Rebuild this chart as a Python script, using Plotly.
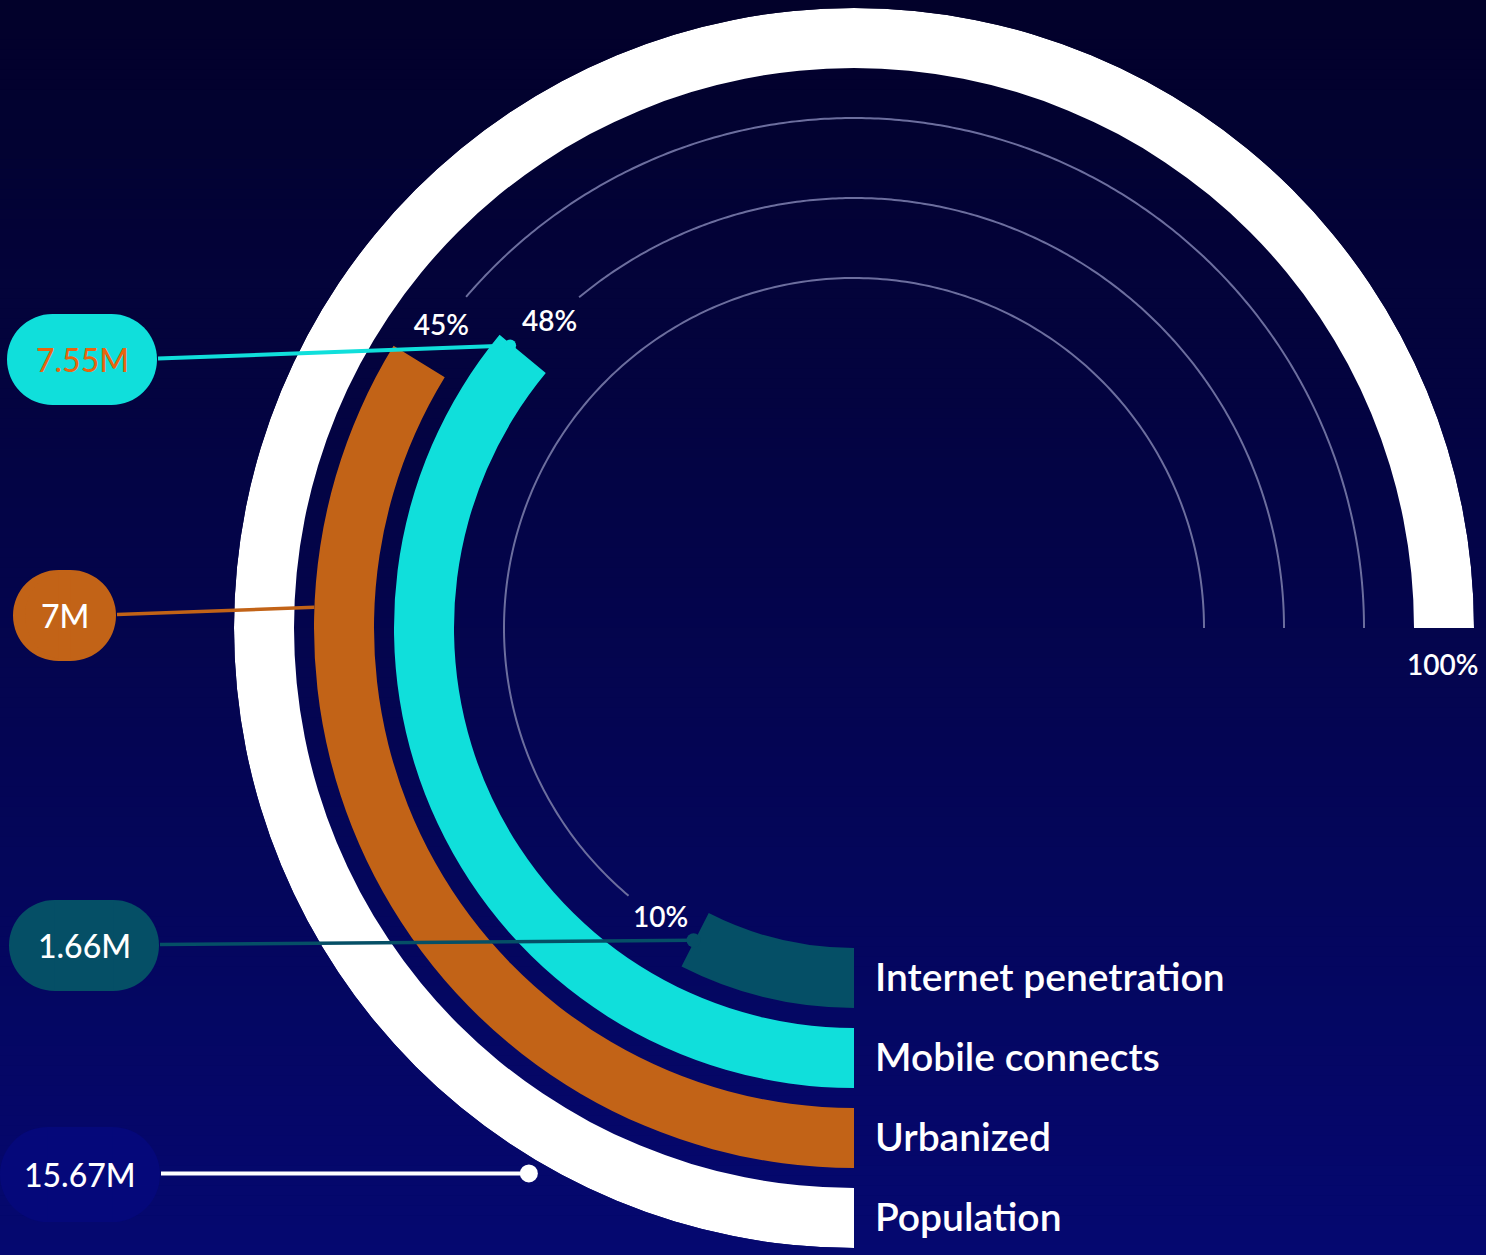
import numpy as np
import plotly.graph_objects as go

# ---------------- data ----------------
categories = ["Population", "Urbanized", "Mobile connects", "Internet penetration"]
percent = [100, 45, 48, 10]
totals = ["15.67M", "7M", "7.55M", "1.66M"]

# ---------------- styles ----------------
ring_colors = ["#ffffff", "#c26317", "#10dfdb", "#054f66"]
pill_fill = ["#05087a", "#c26317", "#10dfdb", "#054f66"]
pill_text_color = ["#ffffff", "#ffffff", "#e8650f", "#ffffff"]
grid_color = "#6c6e9e"
FONT = "Lato"

W, H = 1486, 1255
CX, CY = 854, 628          # centre of the rings (px)
R = 620                    # outer radius (px)
THICK = 60                 # ring thickness
STEP = 80                  # ring spacing
FULL_DEG = 270             # 100% = three quarters of a turn
LABEL_ARC = 40             # arc distance (px) of % label past ring end
GRID_GAP = 80              # arc gap (px) between ring end and track line

outer = [R - i * STEP for i in range(len(percent))]
inner = [o - THICK for o in outer]
mid = [o - THICK / 2 for o in outer]
ends = [p / 100 * FULL_DEG for p in percent]

# pill boxes (left, top, right, bottom in px) and connector end points (theta deg, r)
pill_box = [(0, 1127, 160, 1222), (13, 570, 116, 661), (7, 314, 157, 405), (9, 900, 159, 991)]
conn_end = [(30.8, 635), (92.2, 540), (129.4, 445), (27.2, 351)]
dot_size = [9, 0, 6, 7]
line_w = [4, 3.5, 4, 3.5]


def px(x):
    return x / W


def py(y):
    return 1 - y / H


def polar_px(theta, r):
    t = np.radians(theta)
    return CX - r * np.sin(t), CY + r * np.cos(t)


fig = go.Figure()

# track lines (remaining part of each ring)
for i in range(1, len(percent)):
    start = ends[i] + np.degrees(GRID_GAP / mid[i])
    th = np.linspace(start, FULL_DEG, 300)
    fig.add_trace(go.Scatterpolar(r=[mid[i]] * len(th), theta=th, mode="lines",
                                  line=dict(color=grid_color, width=2),
                                  hoverinfo="skip", showlegend=False))

# rings
for i in range(len(percent)):
    fig.add_trace(go.Barpolar(r=[THICK], base=[inner[i]], theta=[ends[i] / 2], width=[ends[i]],
                              marker=dict(color=ring_colors[i], line=dict(width=0)),
                              name=categories[i], hoverinfo="name", showlegend=False))

# percentage labels
lab_theta = [ends[i] + np.degrees(LABEL_ARC / mid[i]) for i in range(len(percent))]
fig.add_trace(go.Scatterpolar(r=mid, theta=lab_theta, mode="text",
                              text=[f"{p}%" for p in percent],
                              textfont=dict(family=FONT, size=28, color="white", weight=600),
                              textposition="middle center", hoverinfo="skip", showlegend=False))

shapes = []
# background gradient
top_c = np.array([2, 1, 42])
bot_c = np.array([5, 8, 112])
N = 126
for k in range(N):
    f = k / (N - 1)
    c = top_c + (bot_c - top_c) * f
    shapes.append(dict(type="rect", xref="paper", yref="paper", layer="below",
                       x0=0, x1=1, y0=1 - (k + 1.05) / N, y1=1 - k / N,
                       fillcolor=f"rgb({c[0]:.0f},{c[1]:.0f},{c[2]:.0f})", line=dict(width=0)))

annotations = []
for i in range(len(percent)):
    x0, y0, x1, y1 = pill_box[i]
    rr = (y1 - y0) / 2
    col = pill_fill[i]
    for a, b in [(x0, x0 + 2 * rr), (x1 - 2 * rr, x1)]:
        shapes.append(dict(type="circle", xref="paper", yref="paper", layer="above",
                           x0=px(a), x1=px(b), y0=py(y1), y1=py(y0),
                           fillcolor=col, line=dict(width=0)))
    shapes.append(dict(type="rect", xref="paper", yref="paper", layer="above",
                       x0=px(x0 + rr), x1=px(x1 - rr), y0=py(y1), y1=py(y0),
                       fillcolor=col, line=dict(width=0)))
    # connector
    ex, ey = polar_px(*conn_end[i])
    cy_p = (y0 + y1) / 2
    shapes.append(dict(type="line", xref="paper", yref="paper", layer="above",
                       x0=px(x1 + 1), y0=py(cy_p - 1), x1=px(ex), y1=py(ey),
                       line=dict(color=ring_colors[i], width=line_w[i])))
    if dot_size[i] > 0:
        d = dot_size[i]
        shapes.append(dict(type="circle", xref="paper", yref="paper", layer="above",
                           x0=px(ex - d), x1=px(ex + d), y0=py(ey + d), y1=py(ey - d),
                           fillcolor=ring_colors[i], line=dict(width=0)))
    # pill text
    annotations.append(dict(x=px((x0 + x1) / 2), y=py(cy_p), xref="paper", yref="paper",
                            text=totals[i], showarrow=False, xanchor="center", yanchor="middle",
                            font=dict(family=FONT, size=32, color=pill_text_color[i], weight=500)))
    # category label at the start of each ring
    annotations.append(dict(x=px(CX + 19), y=py(CY + mid[i] - 2), xref="paper", yref="paper",
                            text=categories[i], showarrow=False, xanchor="left", yanchor="middle",
                            font=dict(family=FONT, size=39, color="white", weight=600)))

fig.update_layout(
    width=W, height=H,
    margin=dict(l=0, r=0, t=0, b=0),
    paper_bgcolor="#03045a",
    plot_bgcolor="rgba(0,0,0,0)",
    showlegend=False,
    polar=dict(
        domain=dict(x=[px(CX - R), px(CX + R)], y=[py(CY + R), py(CY - R)]),
        bgcolor="rgba(0,0,0,0)",
        barmode="overlay",
        hole=0,
        radialaxis=dict(range=[0, R], visible=False, showgrid=False),
        angularaxis=dict(rotation=270, direction="clockwise", visible=False, showgrid=False),
    ),
    shapes=shapes,
    annotations=annotations,
)

fig.write_html("out.html")
